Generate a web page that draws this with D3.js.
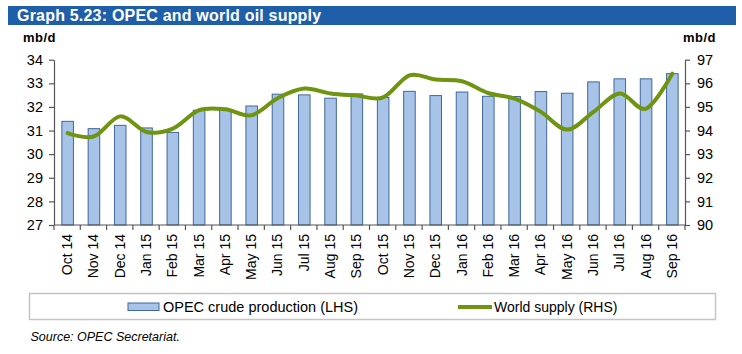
<!DOCTYPE html>
<html><head><meta charset="utf-8">
<script src="https://cdn.jsdelivr.net/npm/d3@7"></script>
<style>
body{margin:0;background:#fff;}
svg{display:block;font-family:Arial,"Liberation Sans",sans-serif;}
</style></head>
<body><svg id="c" width="742" height="354"></svg>
<script>
const categories = ["Oct 14","Nov 14","Dec 14","Jan 15","Feb 15","Mar 15","Apr 15","May 15","Jun 15","Jul 15","Aug 15","Sep 15","Oct 15","Nov 15","Dec 15","Jan 16","Feb 16","Mar 16","Apr 16","May 16","Jun 16","Jul 16","Aug 16","Sep 16"];
const opecCrude = [31.39,31.08,31.22,31.11,30.92,31.86,31.89,32.04,32.54,32.51,32.37,32.55,32.40,32.66,32.48,32.63,32.45,32.44,32.65,32.58,33.06,33.19,33.19,33.41];
const worldSupply = [93.89,93.75,94.60,93.94,94.08,94.86,94.90,94.65,95.38,95.78,95.57,95.48,95.40,96.34,96.16,96.09,95.59,95.35,94.79,94.04,94.79,95.57,94.93,96.41];
const leftTicks = [27,28,29,30,31,32,33,34];
const rightTicks = [90,91,92,93,94,95,96,97];

const svg = d3.select("#c");
const X0 = 54, X1 = 685, YT = 59.7, YB = 225;

// title bar
svg.append("rect").attr("x",8).attr("y",6).attr("width",728).attr("height",19).attr("fill","#1f5ea8");
svg.append("text").attr("x",17).attr("y",21).attr("fill","#fff").attr("font-weight","bold")
  .attr("font-size","16px").attr("letter-spacing","0.2px").text("Graph 5.23: OPEC and world oil supply");

svg.append("text").attr("x",23).attr("y",42).attr("font-weight","bold").attr("font-size","13px").attr("letter-spacing","0.5px").text("mb/d");
svg.append("text").attr("x",683).attr("y",42).attr("font-weight","bold").attr("font-size","13px").attr("letter-spacing","0.5px").text("mb/d");

const x = d3.scaleBand().domain(categories).range([X0,X1]).paddingInner(0.56).paddingOuter(0.28);
const yL = d3.scaleLinear().domain([27,34]).range([YB,YT]);
const yR = d3.scaleLinear().domain([90,97]).range([YB,YT]);

// bars
svg.append("g").selectAll("rect").data(opecCrude).join("rect")
  .attr("x",(d,i)=>x(categories[i])+0.5)
  .attr("y",d=>yL(d))
  .attr("width",x.bandwidth())
  .attr("height",d=>YB-yL(d))
  .attr("fill","#a7c3e7").attr("stroke","#41679c").attr("stroke-width",1);

// axes
const axisStyle = g=>{
  g.select(".domain").attr("stroke","#555").attr("stroke-width",1.2);
  g.selectAll(".tick line").attr("stroke","#555").attr("stroke-width",1.2);
  g.selectAll("text").attr("fill","#000").attr("font-family","Arial, 'Liberation Sans', sans-serif");
};
svg.append("g").attr("transform",`translate(${X0},0)`)
  .call(d3.axisLeft(yL).tickValues(leftTicks).tickFormat(d3.format("d")).tickSize(5).tickSizeOuter(0).tickPadding(6))
  .call(axisStyle).selectAll("text").attr("font-size","14.5px");
svg.append("g").attr("transform",`translate(${X1},0)`)
  .call(d3.axisRight(yR).tickValues(rightTicks).tickFormat(d3.format("d")).tickSize(5).tickSizeOuter(0).tickPadding(7))
  .call(axisStyle).selectAll("text").attr("font-size","14.5px");

// x axis line & ticks at band boundaries
const xb = svg.append("g");
xb.append("line").attr("x1",X0).attr("x2",X1).attr("y1",YB).attr("y2",YB).attr("stroke","#555").attr("stroke-width",1.2);
const boundaries = d3.range(categories.length+1).map(i=>X0+ (X1-X0)*i/categories.length);
xb.selectAll("line.t").data(boundaries).join("line").attr("class","t")
  .attr("x1",d=>d).attr("x2",d=>d).attr("y1",YB).attr("y2",YB+5).attr("stroke","#555").attr("stroke-width",1.2);
xb.selectAll("text").data(categories).join("text")
  .attr("transform",d=>`translate(${x(d)+x.bandwidth()/2+5},${YB+9}) rotate(-90)`)
  .attr("text-anchor","end").attr("font-size","14px").text(d=>d);

// line
const line = d3.line().x((d,i)=>x(categories[i])+x.bandwidth()/2+0.5).y(d=>yR(d)).curve(d3.curveCardinal.tension(0));
svg.append("path").datum(worldSupply).attr("d",line).attr("fill","none")
  .attr("stroke","#6e9410").attr("stroke-width",4).attr("stroke-linejoin","round").attr("stroke-linecap","round");

// legend
svg.append("rect").attr("x",29.5).attr("y",293.5).attr("width",686).attr("height",26).attr("fill","#fff").attr("stroke","#c4c4c4").attr("stroke-width",1.5);
svg.append("rect").attr("x",128).attr("y",303).attr("width",31).attr("height",7.5).attr("fill","#a7c3e7").attr("stroke","#41679c").attr("stroke-width",1);
svg.append("text").attr("x",163).attr("y",312).attr("font-size","14.5px").text("OPEC crude production (LHS)");
svg.append("line").attr("x1",458).attr("x2",492).attr("y1",307).attr("y2",307).attr("stroke","#6e9410").attr("stroke-width",4);
svg.append("text").attr("x",494).attr("y",312).attr("font-size","14px").text("World supply (RHS)");

svg.append("text").attr("x",30.5).attr("y",341).attr("font-size","12.5px").attr("font-style","italic").text("Source: OPEC Secretariat.");
</script></body></html>
